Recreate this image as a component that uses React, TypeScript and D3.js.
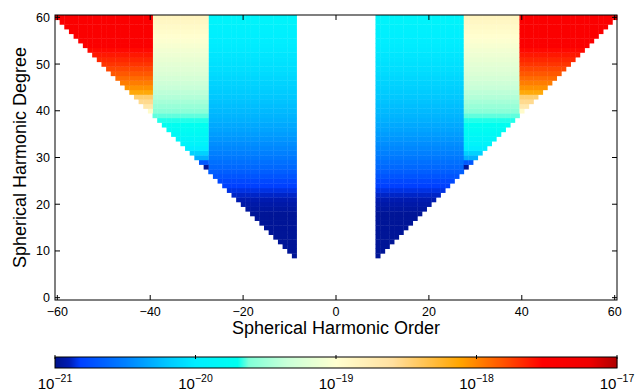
import * as d3 from "d3";
import { useEffect, useRef } from "react";

// order bands: |m| from start to end (inclusive)
const BAND_ORDERS = [
  [9, 27],
  [28, 39],
  [40, 60],
];

// log10 of the value per degree, starting at the band's first degree
const BAND1_LOG = [
  -20.97, -20.97, -20.97, -20.97, -20.97, -20.97, -20.97, -20.97, -20.97, -20.97,
  -20.95, -20.93, -20.91, -20.88, -20.85, -20.82, -20.78, -20.72, -20.67, -20.62,
  -20.58, -20.54, -20.5, -20.47, -20.44, -20.41, -20.38, -20.35, -20.33, -20.3,
  -20.28, -20.26, -20.24, -20.22, -20.2, -20.18, -20.16, -20.14, -20.12, -20.1,
  -20.08, -20.07, -20.05, -20.04, -20.02, -20.01, -20.0, -19.98, -19.96, -19.94,
  -19.92, -19.9,
];
const BAND2_LOG = [
  -20.97, -20.7, -20.3, -20.15, -20.0, -19.9, -19.85, -19.8, -19.76, -19.72,
  -19.68, -19.64, -19.58, -19.53, -19.48, -19.43, -19.39, -19.35, -19.31, -19.27,
  -19.23, -19.2, -19.17, -19.14, -19.11, -19.08, -19.05, -19.02, -18.99, -18.96,
  -18.93, -18.9, -18.87,
];
const BAND3_LOG = [
  -18.95, -18.7, -18.55, -18.45, -18.15, -18.05, -17.97, -17.9, -17.83, -17.77,
  -17.71, -17.66, -17.61, -17.56, -17.45, -17.45, -17.45, -17.45, -17.45, -17.45,
  -17.45,
];
const BAND_LOGS = [BAND1_LOG, BAND2_LOG, BAND3_LOG];

const X_TICKS = [-60, -40, -20, 0, 20, 40, 60];
const Y_TICKS = [0, 10, 20, 30, 40, 50, 60];
const CB_TICKS = [-21, -20, -19, -18, -17];

// colormap stops (log10 value -> colour)
const CMAP_STOPS = [-21, -20.9, -20.82, -20.5, -20.2, -20.0, -19.7, -19.62, -19.35, -19.0, -18.6, -18.12, -17.8, -17.53, -17.2, -17];
const CMAP_COLORS = ["#00128a", "#001cb4", "#0040ff", "#0080ff", "#00c8ff", "#00eeff", "#00fff0", "#80ffd8", "#c8ffd8", "#ffffd0", "#ffe0a0", "#ffa500", "#ff5000", "#ff0000", "#f00000", "#b00000"];

export default function App() {
  const ref = useRef<SVGSVGElement | null>(null);

  useEffect(() => {
    const svg = d3.select(ref.current);
    svg.selectAll("*").remove();

    const width = 638;
    const height = 392;
    const left = 55;
    const right = 617;
    const top = 15;
    const bottom = 300;
    const font = "'Liberation Sans', Arial, sans-serif";

    svg.attr("width", width).attr("height", height);

    const x = d3.scaleLinear().domain([-60.5, 60.5]).range([left, right]);
    const y = d3.scaleLinear().domain([-0.5, 60.5]).range([bottom, top]);
    const color = d3
      .scaleLinear<string>()
      .domain(CMAP_STOPS)
      .range(CMAP_COLORS)
      .interpolate(d3.interpolateRgb)
      .clamp(true);

    const cells: { m: number; n: number; v: number }[] = [];
    BAND_ORDERS.forEach(([lo, hi], b) => {
      const vals = BAND_LOGS[b];
      const n0 = 60 - vals.length + 1;
      vals.forEach((v, i) => {
        const n = n0 + i;
        for (let am = lo; am <= Math.min(hi, n); am++) {
          cells.push({ m: -am, n, v });
          cells.push({ m: am, n, v });
        }
      });
    });

    const cw = x(1) - x(0);
    const ch = y(0) - y(1);
    svg
      .append("g")
      .selectAll("rect")
      .data(cells)
      .enter()
      .append("rect")
      .attr("x", (d) => x(d.m - 0.5))
      .attr("y", (d) => y(d.n + 0.5))
      .attr("width", cw + 0.4)
      .attr("height", ch + 0.4)
      .attr("fill", (d) => color(d.v));

    // box and ticks
    const axes = svg.append("g").attr("stroke", "#000").attr("fill", "none");
    axes
      .append("rect")
      .attr("x", left)
      .attr("y", top)
      .attr("width", right - left)
      .attr("height", bottom - top)
      .attr("stroke-width", 1);
    X_TICKS.forEach((t) => {
      axes.append("line").attr("x1", x(t)).attr("x2", x(t)).attr("y1", bottom).attr("y2", bottom - 5);
      axes.append("line").attr("x1", x(t)).attr("x2", x(t)).attr("y1", top).attr("y2", top + 5);
    });
    Y_TICKS.forEach((t) => {
      axes.append("line").attr("x1", left).attr("x2", left + 5).attr("y1", y(t)).attr("y2", y(t));
      axes.append("line").attr("x1", right).attr("x2", right - 5).attr("y1", y(t)).attr("y2", y(t));
    });

    const fmt = d3.format("d");
    svg
      .append("g")
      .selectAll("text")
      .data(X_TICKS)
      .enter()
      .append("text")
      .attr("x", (d) => x(d))
      .attr("y", 316)
      .attr("text-anchor", "middle")
      .attr("font-family", font)
      .attr("font-size", 12.5)
      .text((d) => fmt(d));
    svg
      .append("g")
      .selectAll("text")
      .data(Y_TICKS)
      .enter()
      .append("text")
      .attr("x", 50)
      .attr("y", (d) => y(d) + 4.5)
      .attr("text-anchor", "end")
      .attr("font-family", font)
      .attr("font-size", 12.5)
      .text((d) => fmt(d));

    svg
      .append("text")
      .attr("x", (left + right) / 2)
      .attr("y", 334)
      .attr("text-anchor", "middle")
      .attr("font-family", font)
      .attr("font-size", 18)
      .text("Spherical Harmonic Order");
    svg
      .append("text")
      .attr("transform", `translate(26,${(top + bottom) / 2}) rotate(-90)`)
      .attr("text-anchor", "middle")
      .attr("font-family", font)
      .attr("font-size", 18)
      .text("Spherical Harmonic Degree");

    // colorbar
    const cbTop = 357;
    const cbBottom = 368;
    const cx = d3.scaleLinear().domain([-21, -17]).range([left, right]);
    const steps = d3.range(left, right, 1);
    svg
      .append("g")
      .selectAll("rect")
      .data(steps)
      .enter()
      .append("rect")
      .attr("x", (d) => d)
      .attr("y", cbTop)
      .attr("width", 1.3)
      .attr("height", cbBottom - cbTop)
      .attr("fill", (d) => color(cx.invert(d + 0.5)));
    svg
      .append("rect")
      .attr("x", left)
      .attr("y", cbTop)
      .attr("width", right - left)
      .attr("height", cbBottom - cbTop)
      .attr("fill", "none")
      .attr("stroke", "#000");
    CB_TICKS.forEach((t) => {
      svg
        .append("line")
        .attr("x1", cx(t))
        .attr("x2", cx(t))
        .attr("y1", cbTop - 2)
        .attr("y2", cbTop + 2)
        .attr("stroke", "#000");
      const lbl = svg
        .append("text")
        .attr("x", cx(t))
        .attr("y", 389)
        .attr("text-anchor", "middle")
        .attr("font-family", font)
        .attr("font-size", 15);
      lbl.append("tspan").text("10");
      lbl
        .append("tspan")
        .attr("dy", -7)
        .attr("font-size", 10.5)
        .text(fmt(t));
    });
  }, []);

  return <svg ref={ref} style={{ position: "absolute", left: 0, top: 0 }} />;
}
